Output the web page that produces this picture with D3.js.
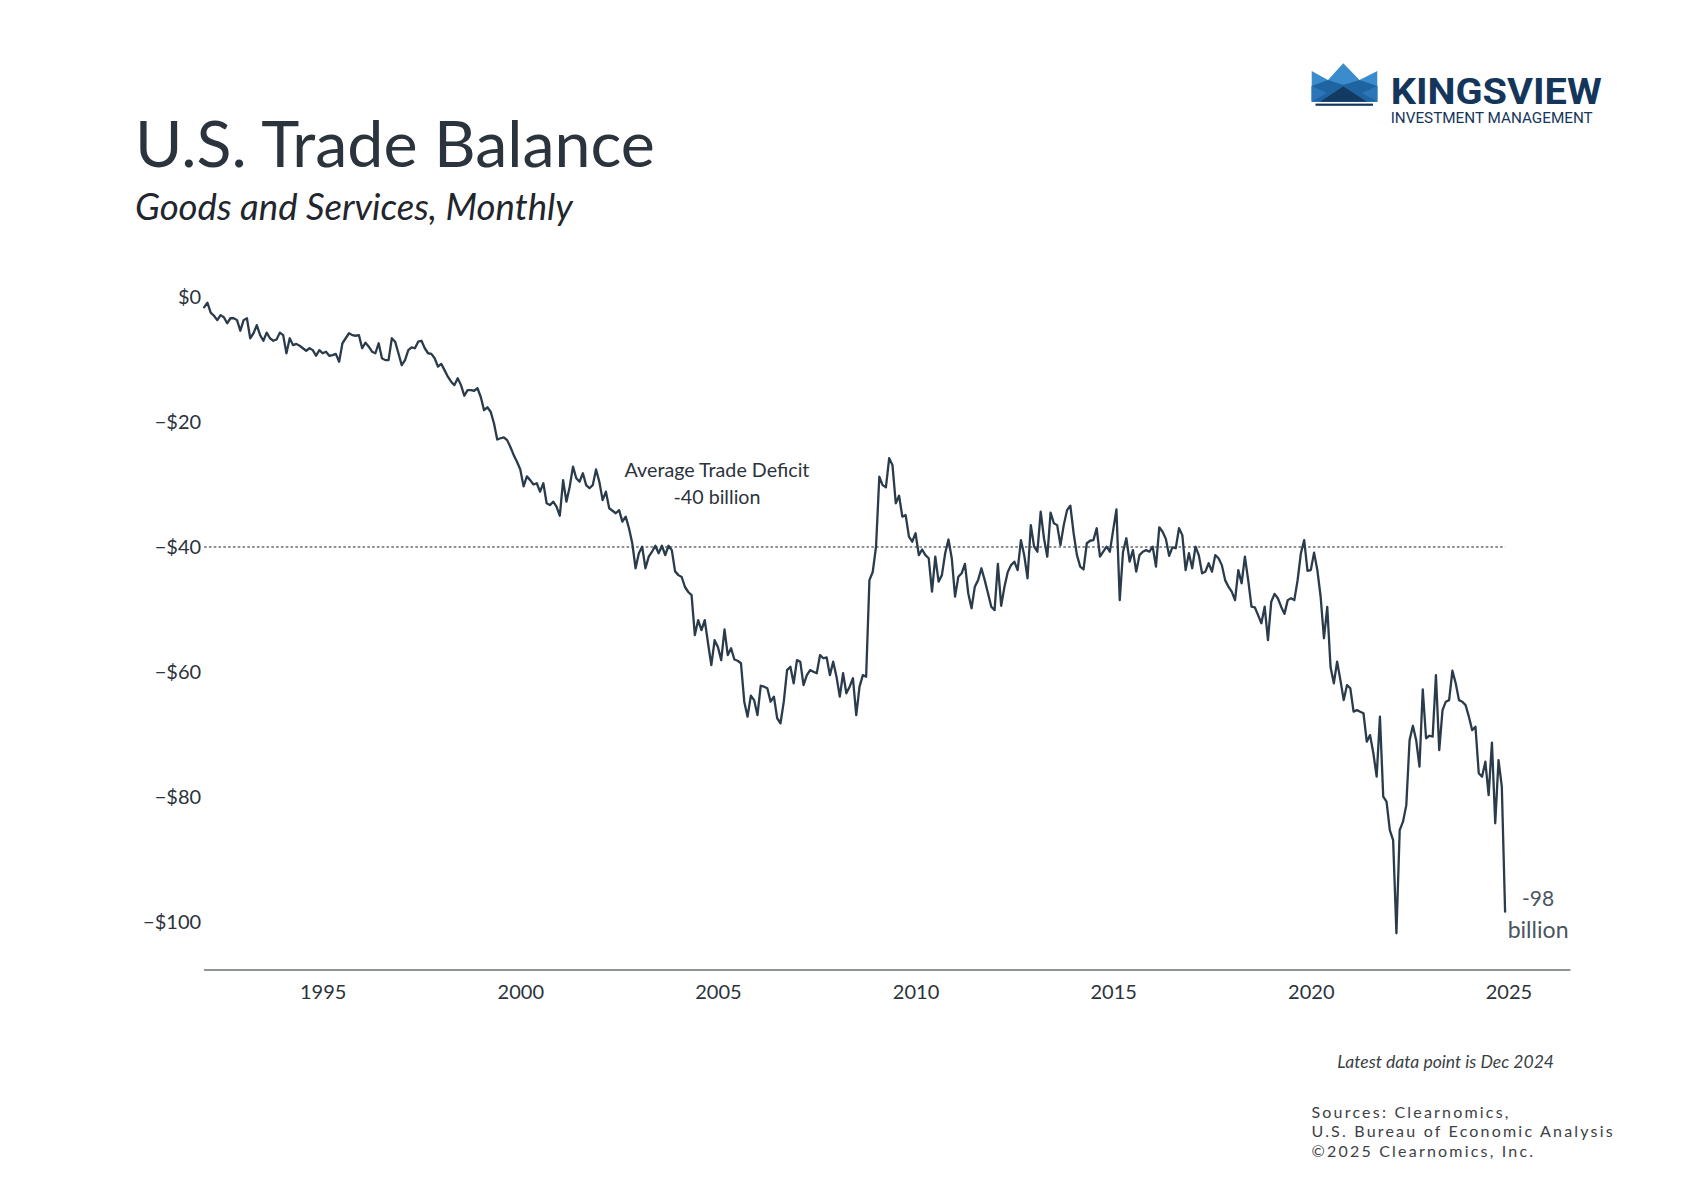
<!DOCTYPE html>
<html><head><meta charset="utf-8">
<script src="https://cdn.jsdelivr.net/npm/d3@7"></script>
<style>
html,body{margin:0;padding:0;background:#fff;}
svg{display:block;}
</style></head>
<body>
<script>
// ---------------- DATA ----------------
const startYear = 1992;            // first monthly observation: Jan 1992
const tradeBalance = [             // US goods & services trade balance, $ billions, monthly
  // 1992
  -1.65, -0.9, -2.5, -3.0, -3.7, -2.9, -3.25, -4.2, -3.4, -3.4, -3.7, -5.4,
  // 1993
  -3.7, -3.4, -6.6, -5.8, -4.5, -6.1, -7.0, -5.7, -6.6, -7.0, -6.8, -5.7,
  // 1994
  -6.1, -9.0, -6.6, -7.7, -7.5, -7.8, -8.2, -8.6, -8.2, -8.5, -9.4, -8.5,
  // 1995
  -9.0, -8.75, -9.4, -9.3, -9.1, -10.35, -7.4, -6.6, -5.8, -6.1, -6.2, -6.1,
  // 1996
  -8.2, -7.3, -7.95, -8.75, -9.0, -7.4, -9.8, -10.1, -10.1, -6.6, -7.15, -9.0,
  // 1997
  -10.9, -10.1, -8.5, -8.05, -8.2, -7.15, -7.0, -8.2, -9.0, -9.1, -9.8, -11.15,
  // 1998
  -10.7, -11.7, -12.75, -13.55, -14.1, -13.0, -14.1, -15.8, -14.9, -14.9, -15.0, -14.6,
  // 1999
  -16.0, -18.1, -17.65, -18.35, -20.2, -22.8, -22.6, -22.45, -22.9, -24.0, -25.3, -26.35,
  // 2000
  -27.6, -30.3, -28.7, -29.3, -30.0, -29.8, -31.15, -29.8, -33.0, -33.3, -32.75, -33.55,
  // 2001
  -35.0, -29.3, -32.75, -30.35, -27.15, -29.0, -29.55, -28.2, -30.1, -30.6, -30.1, -27.6,
  // 2002
  -29.55, -32.5, -31.15, -33.8, -34.2, -34.6, -34.1, -35.95, -35.15, -37.0, -39.4, -43.4,
  // 2003
  -41.0, -39.95, -43.4, -41.55, -40.75, -39.8, -41.0, -39.8, -41.3, -39.8, -40.5, -43.9,
  // 2004
  -44.5, -44.8, -46.4, -47.2, -47.7, -54.1, -51.7, -53.3, -51.7, -55.4, -58.9, -54.9,
  // 2005
  -56.0, -58.1, -53.2, -57.3, -56.2, -58.0, -58.2, -58.6, -64.75, -67.15, -63.8, -64.5,
  // 2006
  -66.9, -62.2, -62.35, -62.6, -64.75, -63.95, -67.4, -68.2, -64.75, -59.7, -59.15, -61.8,
  // 2007
  -58.1, -58.35, -62.1, -60.5, -59.7, -59.95, -60.2, -57.3, -57.8, -57.65, -60.5, -58.35,
  // 2008
  -60.75, -63.95, -60.2, -63.4, -62.35, -61.0, -66.9, -62.35, -60.5, -60.75, -45.3, -44.0,
  // 2009
  -40.0, -28.75, -30.1, -30.45, -25.8, -26.9, -33.0, -31.8, -35.15, -34.9, -38.35, -39.15,
  // 2010
  -37.8, -41.3, -40.4, -41.3, -41.8, -47.15, -41.55, -45.55, -44.5, -41.0, -38.8, -41.8,
  // 2011
  -47.95, -44.75, -44.2, -42.7, -47.4, -49.8, -46.35, -45.3, -43.4, -45.3, -47.4, -49.55,
  // 2012
  -50.1, -42.7, -49.4, -46.35, -44.0, -42.9, -42.35, -43.7, -38.9, -41.3, -45.0, -36.5,
  // 2013
  -39.95, -40.75, -34.35, -38.6, -41.55, -34.5, -36.2, -36.5, -39.7, -36.5, -34.1, -33.4,
  // 2014
  -37.8, -41.3, -43.15, -43.6, -39.4, -39.0, -38.9, -37.0, -41.55, -40.75, -39.95, -40.75,
  // 2015
  -37.3, -34.0, -48.5, -40.75, -38.6, -42.35, -40.5, -43.95, -41.3, -40.75, -40.5, -40.75,
  // 2016
  -39.95, -43.15, -36.85, -37.55, -38.7, -41.4, -40.05, -40.2, -37.0, -38.1, -43.7, -41.0,
  // 2017
  -43.4, -39.95, -41.3, -44.2, -43.95, -42.6, -43.95, -41.3, -41.8, -42.9, -45.3, -46.35,
  // 2018
  -47.15, -48.5, -43.7, -45.8, -41.55, -45.3, -49.55, -49.65, -50.9, -52.2, -49.55, -54.9,
  // 2019
  -48.75, -47.5, -48.2, -49.55, -50.7, -48.5, -48.2, -48.5, -45.3, -41.0, -38.9, -43.8,
  // 2020
  -43.7, -40.9, -43.7, -48.0, -54.6, -49.6, -59.2, -61.8, -58.35, -61.3, -64.5, -62.1,
  // 2021
  -62.6, -66.35, -66.1, -66.35, -66.6, -71.15, -70.1, -73.0, -76.75, -67.15, -79.95, -80.75,
  // 2022
  -85.3, -86.9, -101.8, -85.3, -83.95, -81.3, -70.9, -68.6, -70.9, -75.15, -62.8, -70.6,
  // 2023
  -70.2, -70.35, -60.5, -72.5, -66.1, -64.75, -64.5, -59.8, -61.8, -64.5, -64.75, -65.3,
  // 2024
  -67.15, -69.3, -68.75, -76.2, -76.75, -74.35, -79.7, -71.3, -84.2, -74.1, -78.35, -98.35
];
const xTickYears = [1995, 2000, 2005, 2010, 2015, 2020, 2025];
const yTickValues = [0, -20, -40, -60, -80, -100];
const averageDeficit = -40;
const averageLabel = ["Average Trade Deficit", "-40 billion"];
const latestLabel = ["-98", "billion"];
const titleText = "U.S. Trade Balance";
const subtitleText = "Goods and Services, Monthly";
const latestNote = "Latest data point is Dec 2024";
const sourceLines = ["Sources: Clearnomics,", "U.S. Bureau of Economic Analysis", "\u00A92025 Clearnomics, Inc."];
const logoName = "KINGSVIEW";
const logoSub = "INVESTMENT MANAGEMENT";

// ---------------- CHART ----------------
const W = 1704, H = 1200;
const FONT = "Lato, 'Noto Sans', sans-serif";
const INK = "#2b333c";
const svg = d3.select("body").append("svg").attr("width", W).attr("height", H)
  .style("background", "#fff");

const series = tradeBalance.map((v, i) => ({ t: startYear + i / 12, v }));

const x = d3.scaleLinear().domain([1992, 2025]).range([204.1, 1508.4]);
const y = d3.scaleLinear().domain([0, -100]).range([297, 922]);

function fit(sel, w) {
  const cur = sel.node().getComputedTextLength();
  const fs = parseFloat(sel.attr("font-size"));
  sel.attr("font-size", fs * w / cur);
  return sel;
}

// Title & subtitle
fit(svg.append("text").attr("x", 135).attr("y", 167).attr("font-family", FONT)
  .attr("font-size", 64).attr("fill", INK).text(titleText), 520);
fit(svg.append("text").attr("x", 135).attr("y", 220).attr("font-family", FONT)
  .attr("font-style", "italic").attr("font-size", 34).attr("fill", "#1f262d").text(subtitleText), 438);

// Logo
const logo = svg.append("g").attr("transform", "translate(1300,55)");
logo.append("polygon").attr("points", "11.7,16 28,25 43.3,8.3 59.5,25 77.3,16 77.3,46.7 11.7,46.7").attr("fill", "#3a8ccd");
logo.append("polygon").attr("points", "11.7,31 28,25 43.3,30 59.5,25 77.3,31 77.3,46.7 11.7,46.7").attr("fill", "#1f63a0");
logo.append("polygon").attr("points", "11.7,31 27,38 11.7,46.7").attr("fill", "#2a76b8");
logo.append("polygon").attr("points", "77.3,31 62,38 77.3,46.7").attr("fill", "#2a76b8");
logo.append("polygon").attr("points", "20,46.7 43.3,31.5 67,46.7").attr("fill", "#133a63");
logo.append("rect").attr("x", 15.5).attr("y", 48.6).attr("width", 57.5).attr("height", 2.2).attr("fill", "#14365c");
logo.append("text").attr("x", 90.7).attr("y", 48.5).attr("font-family", "Roboto, Lato, sans-serif")
  .attr("font-weight", 700).attr("font-size", 37).attr("fill", "#15365b")
  .attr("textLength", 211).attr("lengthAdjust", "spacingAndGlyphs").text(logoName);
logo.append("text").attr("x", 90.7).attr("y", 68).attr("font-family", "Roboto, Lato, sans-serif")
  .attr("font-size", 14).attr("fill", "#15365b")
  .attr("textLength", 202).attr("lengthAdjust", "spacingAndGlyphs").text(logoSub);

// Y axis labels
const yAxis = d3.axisLeft(y).tickValues(yTickValues).tickSize(0).tickPadding(3)
  .tickFormat(v => v === 0 ? "$0" : "\u2212$" + Math.abs(v));
const yg = svg.append("g").attr("transform", `translate(${x(1992)},0)`).call(yAxis);
yg.select(".domain").remove();
yg.selectAll("text").attr("font-family", FONT).attr("font-size", 20).attr("fill", INK);

// X axis
const xAxis = d3.axisBottom(x).tickValues(xTickYears).tickSize(0).tickPadding(0)
  .tickFormat(d3.format("d"));
const xg = svg.append("g").attr("transform", "translate(0,984.5)").call(xAxis);
xg.select(".domain").remove();
xg.selectAll("text").attr("font-family", FONT).attr("font-size", 20).attr("fill", INK);
svg.append("line").attr("x1", x(1992)).attr("x2", x(2026.57))
  .attr("y1", 970).attr("y2", 970).attr("stroke", "#6b6f73").attr("stroke-width", 1.6);

// Average line
svg.append("line").attr("x1", x(1992)).attr("x2", x(startYear + (tradeBalance.length - 1) / 12))
  .attr("y1", y(averageDeficit)).attr("y2", y(averageDeficit))
  .attr("stroke", "#6a6e72").attr("stroke-width", 1.3).attr("stroke-dasharray", "2.6,2.2");

// Series line
svg.append("path").datum(series)
  .attr("d", d3.line().x(d => x(d.t)).y(d => y(d.v)))
  .attr("fill", "none").attr("stroke", "#2a3b4c").attr("stroke-width", 2.3)
  .attr("stroke-linejoin", "round").attr("stroke-linecap", "round");

// Average annotation
fit(svg.append("text").attr("x", 717).attr("y", 477).attr("text-anchor", "middle")
  .attr("font-family", FONT).attr("font-size", 19).attr("fill", INK).text(averageLabel[0]), 185);
fit(svg.append("text").attr("x", 717).attr("y", 504).attr("text-anchor", "middle")
  .attr("font-family", FONT).attr("font-size", 19).attr("fill", INK).text(averageLabel[1]), 87);

// Latest annotation
const last = series[series.length - 1];
svg.append("text").attr("x", x(last.t) + 33).attr("y", 906).attr("text-anchor", "middle")
  .attr("font-family", FONT).attr("font-size", 21).attr("fill", "#4a5560").text(latestLabel[0]);
fit(svg.append("text").attr("x", x(last.t) + 33).attr("y", 938).attr("text-anchor", "middle")
  .attr("font-family", FONT).attr("font-size", 21).attr("fill", "#4a5560").text(latestLabel[1]), 61);

// Footnotes
fit(svg.append("text").attr("x", 1554).attr("y", 1068).attr("text-anchor", "end")
  .attr("font-family", FONT).attr("font-style", "italic").attr("font-size", 17)
  .attr("fill", "#3a3f44").text(latestNote), 217);
sourceLines.forEach((s, i) => {
  svg.append("text").attr("x", 1311.5).attr("y", 1117.5 + i * 19.8)
    .attr("font-family", FONT).attr("font-size", 16).attr("letter-spacing", 2.2)
    .attr("fill", "#3c4146").text(s);
});
</script>
</body></html>
